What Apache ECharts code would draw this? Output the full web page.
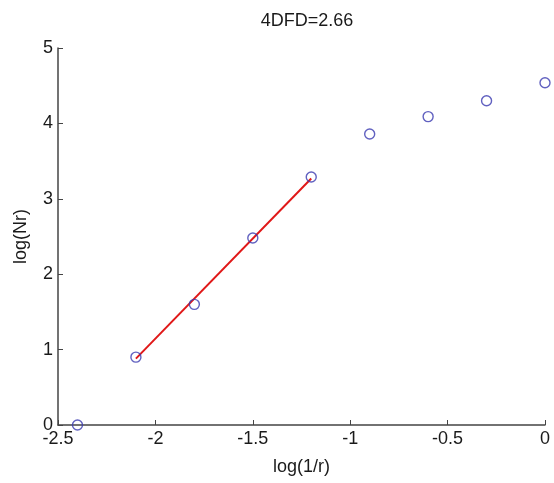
<!DOCTYPE html>
<html><head><meta charset="utf-8">
<script src="https://cdn.jsdelivr.net/npm/echarts@6/dist/echarts.min.js"></script>
<style>html,body{margin:0;padding:0;background:#fff}#c{width:554px;height:483px}</style>
</head><body><div id="c"></div>
<script>
const titleText = "4DFD=2.66";
const xName = "log(1/r)";
const yName = "log(Nr)";
const xs = [-2.4, -2.1, -1.8, -1.5, -1.2, -0.9, -0.6, -0.3, 0];
const ys = [0, 0.90, 1.60, 2.48, 3.29, 3.86, 4.09, 4.30, 4.54];
const fitX = [-2.1, -1.2];
const fitY = [0.88, 3.27];

const chart = echarts.init(document.getElementById('c'));
const font = 'Liberation Sans, Arial, sans-serif';
chart.setOption({
  animation: false,
  title: {text: titleText, left: 302, top: 7, textAlign: 'center',
    textStyle: {fontFamily: font, fontSize: 18, fontWeight: 'normal', color: '#1a1a1a'}},
  grid: {left: 58, right: 9, top: 48, bottom: 58, containLabel: false},
  xAxis: {type: 'value', min: -2.5, max: 0, interval: 0.5,
    name: xName, nameLocation: 'middle', nameGap: 33,
    nameTextStyle: {fontFamily: font, fontSize: 18, color: '#1a1a1a'},
    axisLine: {show: true, onZero: false, lineStyle: {color: '#444', width: 1.5}},
    axisTick: {show: true, inside: true, length: 5, lineStyle: {color: '#444'}},
    axisLabel: {fontFamily: font, fontSize: 18, color: '#1a1a1a', margin: 5},
    splitLine: {show: false}},
  yAxis: {type: 'value', min: 0, max: 5, interval: 1,
    name: yName, nameLocation: 'middle', nameGap: 28,
    nameTextStyle: {fontFamily: font, fontSize: 18, color: '#1a1a1a'},
    axisLine: {show: true, onZero: false, lineStyle: {color: '#444', width: 1.5}},
    axisTick: {show: true, inside: true, length: 5, lineStyle: {color: '#444'}},
    axisLabel: {fontFamily: font, fontSize: 18, color: '#1a1a1a', margin: 5},
    splitLine: {show: false}},
  series: [
    {type: 'line', data: fitX.map((x, i) => [x, fitY[i]]), symbol: 'none',
      lineStyle: {color: '#e01818', width: 2}, z: 2},
    {type: 'scatter', data: xs.map((x, i) => [x, ys[i]]), symbol: 'circle', symbolSize: 10,
      itemStyle: {color: 'rgba(0,0,0,0)', borderColor: '#3a3ab0', borderWidth: 1.4}, z: 3}
  ]
});
</script></body></html>
